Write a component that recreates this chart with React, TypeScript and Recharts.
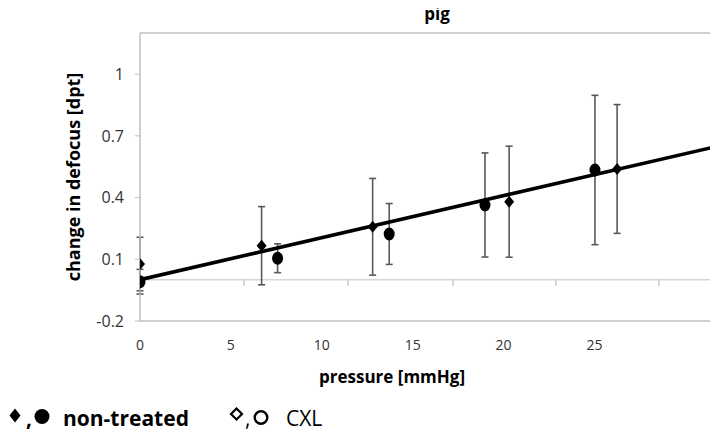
import {
  ComposedChart, Scatter, Line, XAxis, YAxis, ErrorBar, ReferenceLine,
} from 'recharts';

// pressure [mmHg] / change in defocus [dpt] / error (±)
const DIAMOND_P = [0, 6.69, 12.8, 20.31, 26.25];
const DIAMOND_V = [0.077, 0.166, 0.258, 0.38, 0.539];
const DIAMOND_ERR = [0.13, 0.19, 0.235, 0.27, 0.313];

const CIRCLE_P = [0, 7.57, 13.71, 18.98, 25.03];
const CIRCLE_V = [-0.009, 0.105, 0.223, 0.364, 0.534];
const CIRCLE_ERR = [0.06, 0.07, 0.148, 0.253, 0.363];

// linear fit, drawn across the visible range
const TREND_P = [0, 31.8];
const TREND_V = [0.001, 0.65];

const X_TICKS = [0, 5, 10, 15, 20, 25];
const Y_TICKS = [-0.2, 0.1, 0.4, 0.7, 1];
// small marks hanging under the y = 0 line
const ZERO_MARKS = [5.72, 11.44, 17.22, 22.88, 28.55];

const diamonds = DIAMOND_P.map((p, i) => ({ p, v: DIAMOND_V[i], err: DIAMOND_ERR[i] }));
const circles = CIRCLE_P.map((p, i) => ({ p, v: CIRCLE_V[i], err: CIRCLE_ERR[i] }));
const trend = TREND_P.map((p, i) => ({ p, v: TREND_V[i] }));

const FONT = '"Open Sans", sans-serif';
const GRID = '#bfbfbf';

function DiamondShape({ cx, cy }: { cx?: number; cy?: number }) {
  if (cx == null || cy == null) return <g />;
  return <polygon points={`${cx},${cy - 6} ${cx + 5},${cy} ${cx},${cy + 6} ${cx - 5},${cy}`} fill="#000" />;
}

function CircleShape({ cx, cy }: { cx?: number; cy?: number }) {
  if (cx == null || cy == null) return <g />;
  return <ellipse cx={cx} cy={cy} rx={5.5} ry={6.5} fill="#000" />;
}

// legend drawn by hand: filled marks = non-treated, open marks = CXL
function KeyRow() {
  return (
    <svg width={710} height={38} style={{ position: 'absolute', left: 0, top: 388 }}>
      <g transform="translate(0,12)">
        <polygon points="7,0.5 12.5,7.5 7,14.5 1.5,7.5" fill="#000" />
        <text x={18} y={18} fontFamily={FONT} fontSize={21} fontWeight="bold">,</text>
        <circle cx={34} cy={8.5} r={7.5} fill="#000" />
        <text x={55} y={18} fontFamily={FONT} fontSize={21} fontWeight="bold">non-treated</text>
        <polygon points="228.5,0.5 234,6 228.5,11.5 223,6" fill="none" stroke="#000" strokeWidth={2.2} />
        <text x={237} y={18} fontFamily={FONT} fontSize={21}>,</text>
        <circle cx={253} cy={9.5} r={6.3} fill="none" stroke="#000" strokeWidth={2.4} />
        <text x={278} y={18} fontFamily={FONT} fontSize={21}>CXL</text>
      </g>
    </svg>
  );
}

export default function App() {
  return (
    <div style={{ position: 'relative', width: 710, height: 426, fontFamily: FONT }}>
      <ComposedChart width={710} height={388} margin={{ top: 25, right: 0, bottom: 0, left: 0 }}>
        <XAxis
          type="number" dataKey="p" domain={[0, 31.8]} ticks={X_TICKS} allowDataOverflow
          height={75} axisLine={{ stroke: GRID, strokeWidth: 1.5 }} tickLine={false}
          tickSize={6} tickMargin={13}
          tick={{ fontSize: 14, fill: '#333', fontFamily: FONT }}
          label={{ value: 'pressure [mmHg]', position: 'insideBottom', offset: 13, dx: -37,
            style: { fontSize: 17, fontWeight: 'bold', fill: '#000', fontFamily: FONT } }}
        />
        <YAxis
          type="number" domain={[-0.2, 1.2]} ticks={Y_TICKS} allowDataOverflow width={132}
          axisLine={{ stroke: GRID, strokeWidth: 1.5 }} tickLine={{ stroke: GRID }}
          tickSize={5} tickMargin={11}
          tick={{ fontSize: 16, fill: '#333', fontFamily: FONT }}
          label={{ value: 'change in defocus [dpt]', angle: -90, position: 'center',
            style: { fontSize: 18, fontWeight: 'bold', fill: '#000', fontFamily: FONT } }}
        />
        <ReferenceLine y={1.2} stroke={GRID} strokeWidth={1.5} />
        <ReferenceLine y={0} stroke="#d6d6d6" strokeWidth={1.5} />
        {ZERO_MARKS.map(x => (
          <ReferenceLine key={x} segment={[{ x, y: 0 }, { x, y: -0.03 }]} stroke={GRID} strokeWidth={1.2} />
        ))}
        <Scatter data={diamonds} dataKey="v" shape={DiamondShape} isAnimationActive={false}>
          <ErrorBar dataKey="err" direction="y" width={3.5} stroke="#595959" strokeWidth={1.6} isAnimationActive={false} />
        </Scatter>
        <Scatter data={circles} dataKey="v" shape={CircleShape} isAnimationActive={false}>
          <ErrorBar dataKey="err" direction="y" width={3.5} stroke="#595959" strokeWidth={1.6} isAnimationActive={false} />
        </Scatter>
        <Line data={trend} dataKey="v" stroke="#000" strokeWidth={3.6} dot={false} activeDot={false}
          legendType="none" isAnimationActive={false} />
      </ComposedChart>
      <div style={{
        position: 'absolute', left: 379, top: -6, width: 100, textAlign: 'center',
        fontSize: 17, fontWeight: 'bold', lineHeight: '24px', color: '#000',
      }}>
        pig
      </div>
      <KeyRow />
    </div>
  );
}
